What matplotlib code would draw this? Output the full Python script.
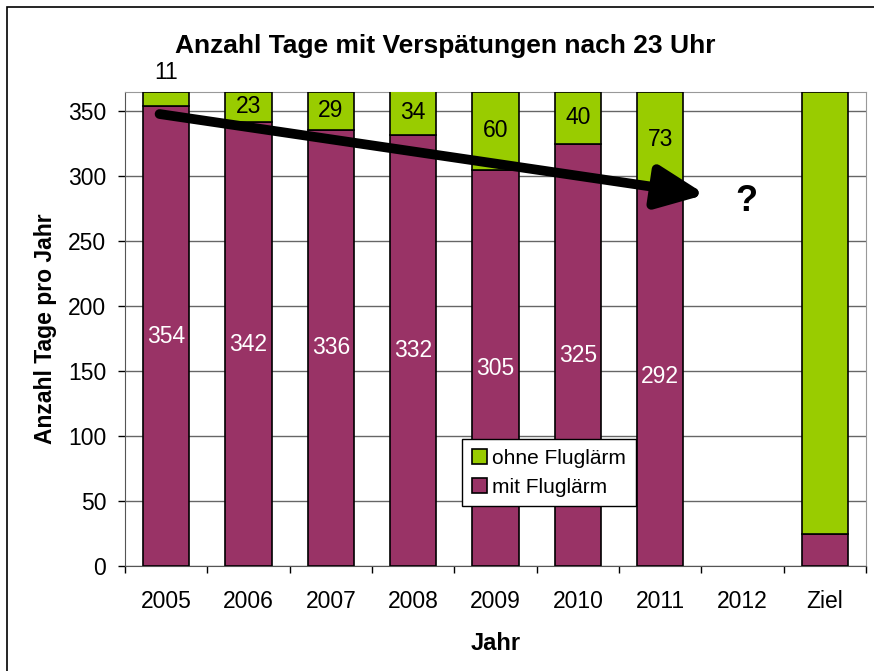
import numpy as np
import matplotlib
matplotlib.use("Agg")
import matplotlib.pyplot as plt
from matplotlib.patches import Rectangle

plt.rcParams['font.family'] = ['Liberation Sans', 'DejaVu Sans']

# data
jahre = ["2005", "2006", "2007", "2008", "2009", "2010", "2011", "2012", "Ziel"]
mit_fluglaerm = [354, 342, 336, 332, 305, 325, 292, 0, 25]
ohne_fluglaerm = [11, 23, 29, 34, 60, 40, 73, 0, 340]
show_labels = [True, True, True, True, True, True, True, False, False]

purple = '#993366'
green = '#99cc00'

fig = plt.figure(figsize=(8.74, 6.71), dpi=100)
ax = fig.add_axes([0.143, 0.156, 0.848, 0.707])

x = np.arange(len(jahre))
w = 0.56
bars_mit = ax.bar(x, mit_fluglaerm, w, color=purple, edgecolor='black',
                  linewidth=1.2, label='mit Fluglärm', zorder=3)
bars_ohne = ax.bar(x, ohne_fluglaerm, w, bottom=mit_fluglaerm, color=green,
                   edgecolor='black', linewidth=1.2, label='ohne Fluglärm', zorder=3)
# no bar for years without data
for b in list(bars_mit) + list(bars_ohne):
    if b.get_height() == 0:
        b.set_visible(False)

for i in range(len(jahre)):
    if not show_labels[i]:
        continue
    m, o = mit_fluglaerm[i], ohne_fluglaerm[i]
    ax.text(x[i], m / 2, str(m), ha='center', va='center', color='white',
            fontsize=16.5, zorder=5)
    if o < 15:
        ax.text(x[i], m + o + 15, str(o), ha='center', va='center',
                color='black', fontsize=16.5, zorder=5, clip_on=False)
    else:
        ax.text(x[i], m + o / 2, str(o), ha='center', va='center',
                color='black', fontsize=16.5, zorder=5)

# trend arrow
ax.annotate('', xy=(6.55, 286), xytext=(-0.08, 348),
            arrowprops=dict(arrowstyle='-|>,head_length=2.9,head_width=1.3',
                            color='black', lw=7, shrinkA=0, shrinkB=0),
            zorder=6)
ax.text(7.05, 281, '?', ha='center', va='center', fontsize=26,
        fontweight='bold', zorder=6)

ax.set_xlim(-0.5, len(jahre) - 0.5)
ax.set_ylim(0, 365)
ax.set_yticks(np.arange(0, 351, 50))
ax.set_xticks(x)
ax.set_xticklabels(jahre)
ax.set_xticks(np.arange(-0.5, len(jahre), 1), minor=True)
ax.tick_params(axis='x', which='major', length=0, pad=17, labelsize=16.5)
ax.tick_params(axis='x', which='minor', length=5, width=1, direction='out')
ax.tick_params(axis='y', length=5, width=1, direction='out', labelsize=16.5, pad=8.5)

ax.grid(axis='y', color='#666666', linewidth=1, zorder=0)
ax.spines['top'].set_color('#999999')
ax.spines['right'].set_color('#999999')
ax.spines['left'].set_color('#555555')
ax.spines['bottom'].set_color('#555555')

ax.set_title('Anzahl Tage mit Verspätungen nach 23 Uhr', fontsize=19,
             fontweight='bold', pad=28, x=0.432)
ax.set_xlabel('Jahr', fontsize=17, fontweight='bold', labelpad=14)
ax.set_ylabel('Anzahl Tage pro Jahr', fontsize=16.5, fontweight='bold', labelpad=8)

handles = [bars_ohne, bars_mit]
leg = ax.legend(handles, ['ohne Fluglärm', 'mit Fluglärm'],
                loc='upper left', bbox_to_anchor=(0.455, 0.268),
                fontsize=15, frameon=True, fancybox=False, framealpha=1,
                edgecolor='black', handlelength=0.75, handleheight=0.75,
                handletextpad=0.25, borderpad=0.45, labelspacing=0.5,
                borderaxespad=0)
leg.get_frame().set_linewidth(1)
leg.set_zorder(7)

# outer chart border
fig.patches.append(Rectangle((0.008, -0.02), 1.1, 1.0096, transform=fig.transFigure,
                             fill=False, edgecolor='black', linewidth=1.2))

fig.savefig('out.png', dpi=100)
